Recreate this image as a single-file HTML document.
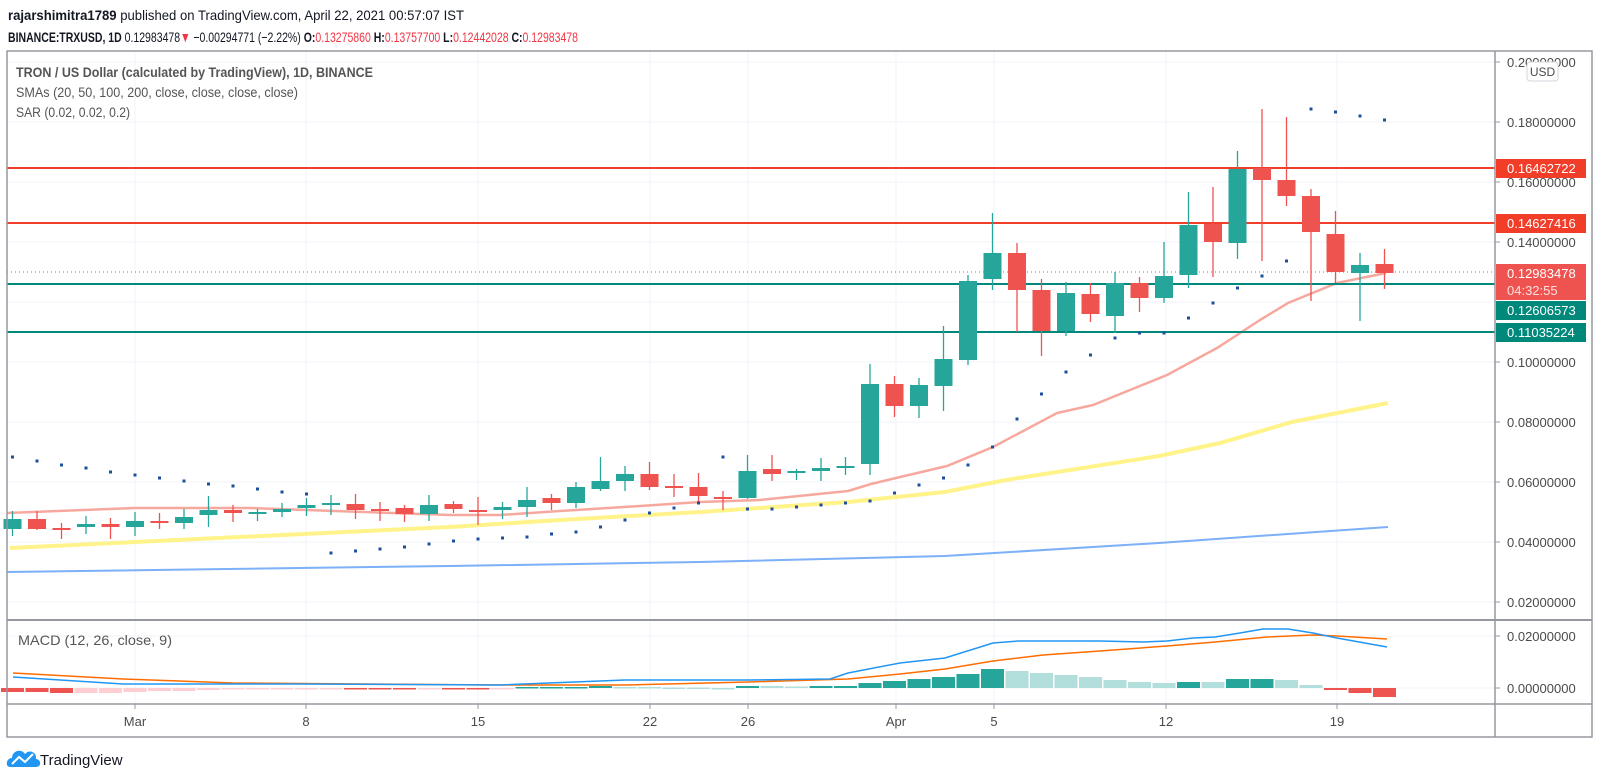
<!DOCTYPE html>
<html><head><meta charset="utf-8"><style>
html,body{margin:0;padding:0;background:#fff;}
svg{display:block;font-family:"Liberation Sans",sans-serif;}
</style></head><body>
<svg id="s" width="1600" height="781" viewBox="0 0 1600 781" xmlns="http://www.w3.org/2000/svg">
<rect width="1600" height="781" fill="#fff"/>
<g id="grid" stroke="#f0f3fa" stroke-width="1"></g>
<g id="lines"></g>
<g id="cand"></g>
<g id="macd"></g>
<!-- frame -->
<rect x="7" y="51" width="1585" height="686" fill="none" stroke="#9598a1" stroke-width="1.5"/>
<line x1="1495" y1="51" x2="1495" y2="737" stroke="#9598a1" stroke-width="1.5"/>
<line x1="7" y1="620" x2="1592" y2="620" stroke="#9598a1" stroke-width="2"/>
<line x1="7" y1="704" x2="1592" y2="704" stroke="#9598a1" stroke-width="1.5"/>
<g id="axis" font-size="13" fill="#4a4a4a"></g>
<!-- header -->
<text x="8" y="20" font-size="14" fill="#131722" textLength="456" lengthAdjust="spacingAndGlyphs"><tspan font-weight="bold">rajarshimitra1789</tspan> published on TradingView.com, April 22, 2021 00:57:07 IST</text>
<text x="8" y="42" font-size="14" fill="#131722" textLength="570" lengthAdjust="spacingAndGlyphs"><tspan font-weight="bold">BINANCE:TRXUSD, 1D</tspan> 0.12983478<tspan fill="#f23645">▼</tspan> −0.00294771 (−2.22%) <tspan font-weight="bold">O:</tspan><tspan fill="#f23645">0.13275860</tspan> <tspan font-weight="bold">H:</tspan><tspan fill="#f23645">0.13757700</tspan> <tspan font-weight="bold">L:</tspan><tspan fill="#f23645">0.12442028</tspan> <tspan font-weight="bold">C:</tspan><tspan fill="#f23645">0.12983478</tspan></text>
<text x="16" y="77" font-size="14" fill="#555" font-weight="bold" textLength="357" lengthAdjust="spacingAndGlyphs">TRON / US Dollar (calculated by TradingView), 1D, BINANCE</text>
<text x="16" y="97" font-size="14" fill="#555" textLength="282" lengthAdjust="spacingAndGlyphs">SMAs (20, 50, 100, 200, close, close, close, close)</text>
<text x="16" y="117" font-size="14" fill="#555" textLength="114" lengthAdjust="spacingAndGlyphs">SAR (0.02, 0.02, 0.2)</text>
<text x="18" y="645" font-size="14" fill="#555" textLength="154" lengthAdjust="spacingAndGlyphs">MACD (12, 26, close, 9)</text>
<!-- logo -->
<g transform="translate(7,745)">
<path d="M3 22 C-2 22 -1 13 5 13 C5 6 14 3 18 9 C22 4 30 7 29 14 C34 14 35 22 29 22 Z" fill="#2196f3"/>
<polyline points="5,19 12,12 18,17 26,9" fill="none" stroke="#fff" stroke-width="2"/>
</g>
<text x="40" y="765" font-size="15" fill="#131722">TradingView</text>
</svg>
<script>
const NS="http://www.w3.org/2000/svg";
function el(p,t,a,txt){const e=document.createElementNS(NS,t);for(const k in a)e.setAttribute(k,a[k]);if(txt!==undefined)e.textContent=txt;document.getElementById(p).appendChild(e);return e;}
const X=d=>135+24.5*d;
// grid
[62,122,182,242,302,362,422,482,542,602,636,688].forEach(y=>el('grid','line',{x1:7,x2:1495,y1:y,y2:y}));
[135,306,478,650,748,896,994,1166,1337].forEach(x=>el('grid','line',{x1:x,x2:x,y1:51,y2:704}));
// SMAs
el('lines','polyline',{points:"7,572 450,566 700,562 945,556 1159,543 1388,527",fill:"none",stroke:"#5b9cf6","stroke-width":2,opacity:0.8});
el('lines','polyline',{points:"10,548 450,527 560,520 700,512 848,502 945,492 1006,480 1159,456 1220,443 1292,422 1388,403",fill:"none",stroke:"#fff176","stroke-width":4,opacity:0.85});
el('lines','polyline',{points:"7,513 135,508 250,508 306,510 450,515 500,515 560,511 640,506 700,502 760,500 848,491 871,484 896,478 947,466 993,447 1057,413 1093,405 1167,375 1217,348 1260,320 1288,303 1337,283 1386,273",fill:"none",stroke:"#f7a399","stroke-width":2.5,opacity:0.95});
// horizontal levels
el('lines','line',{x1:7,x2:1495,y1:168,y2:168,stroke:"#f23d28","stroke-width":2});
el('lines','line',{x1:7,x2:1495,y1:223,y2:223,stroke:"#f23d28","stroke-width":2});
el('lines','line',{x1:7,x2:1495,y1:284,y2:284,stroke:"#00897b","stroke-width":2});
el('lines','line',{x1:7,x2:1495,y1:332,y2:332,stroke:"#00897b","stroke-width":2});
el('lines','line',{x1:7,x2:1495,y1:272,y2:272,stroke:"#ef5350","stroke-width":1,"stroke-dasharray":"1,3"});
// candles [c,bt,bb,wt,wb]
const C=[
['g',519,529,511,536],['r',519,529,511,530],['r',528,530,523,539],['g',524,527,516,534],['r',524,527,518,539],
['g',521,527,512,536],['r',521,523,513,529],['g',517,523,509,529],['g',510,515,496,527],['r',510,513,505,522],
['g',512,513,509,521],['g',509,512,503,517],['g',505,508,498,516],['g',503,505,495,515],['r',504,510,494,519],
['r',509,511,502,521],['r',508,514,505,522],['g',505,514,495,521],['r',504,509,501,513],['r',510,512,497,525],
['g',507,510,502,519],['g',500,507,487,517],['r',498,503,494,510],['g',487,503,482,508],['g',481,489,457,491],
['g',474,481,466,491],['r',474,487,462,490],['r',486,488,474,497],['r',487,496,473,503],['r',497,499,491,510],
['g',471,498,455,499],['r',469,474,455,481],['g',471,473,469,480],['g',468,471,458,481],['g',466,468,457,475],
['g',384,464,364,475],['r',384,406,376,417],['g',385,406,378,418],['g',359,386,326,411],['g',281,360,275,365],
['g',253,279,213,290],['r',253,290,243,332],['r',290,331,279,356],['g',293,331,282,336],['r',294,314,283,322],
['g',283,316,272,333],['r',283,298,277,312],['g',276,298,242,303],['g',225,275,192,288],['r',224,242,187,277],
['g',169,243,151,259],['r',168,180,109,261],['r',180,196,117,206],['r',196,232,189,301],['r',234,272,211,283],
['g',265,273,253,321],['r',264,273,249,289]];
C.forEach((c,i)=>{const d=i-5,x=X(d),col=c[0]=='g'?'#26a69a':'#ef5350';
el('cand','line',{x1:x,x2:x,y1:c[3],y2:c[4],stroke:col,"stroke-width":1.3});
el('cand','rect',{x:x-9,y:c[1],width:18,height:Math.max(2,c[2]-c[1]),fill:col});});
// SAR
const S=[457,461,465,468,472,475,478,481,484,486,489,492,494,553,551,549,547,544,541,539,538,537,534,532,527,520,513,508,503,457,509,509,507,505,503,501,493,485,478,465,447,419,394,372,355,338,333,333,318,303,288,276,261,109,112,116,120];
S.forEach((y,i)=>{const x=X(i-5);el('cand','rect',{x:x-1.5,y:y-1.5,width:3,height:3,fill:"#1e4f9c"});});
// MACD hist
const H=[[692,'R'],[692,'R'],[693,'R'],[693,'P'],[693,'P'],[692,'P'],[691,'P'],[691,'P'],[690,'P'],[689.5,'P'],[689.5,'P'],[689,'P'],[689,'P'],[689,'P'],[689.5,'R'],[689.5,'R'],[689.5,'R'],[689,'P'],[689.5,'R'],[689.5,'R'],[688.5,'P'],
[687,'G'],[687,'G'],[687,'G'],[686,'G'],[687,'L'],[687,'L'],[687.5,'L'],[687.5,'L'],[688,'L'],[686,'G'],[686,'L'],[686.5,'L'],[686,'G'],[686,'G'],
[683,'G'],[681,'G'],[679,'G'],[677,'G'],[674,'G'],[669,'G'],[671,'L'],[673,'L'],[675,'L'],[677,'L'],[680,'L'],[682,'L'],[683,'L'],[682,'G'],[682,'L'],[679,'G'],[679,'G'],[680,'L'],[685,'L'],[690,'R'],[693,'R'],[697,'R']];
const HC={R:'#ef5350',P:'#ffcdd2',G:'#26a69a',L:'#b2dfdb'};
H.forEach((h,i)=>{const x=X(i-5),y=h[0];const t=Math.min(y,688),b=Math.max(y,688);
el('macd','rect',{x:x-11.5,y:t,width:23,height:Math.max(1.5,b-t),fill:HC[h[1]]});});
el('macd','polyline',{points:"13,673 123,679 233,683 500,685 625,685 748,682 848,679 900,674 945,669 993,661 1043,655 1100,651 1167,646 1215,642 1267,637 1313,635 1337,636 1387,639",fill:"none",stroke:"#ff6d00","stroke-width":1.5});
el('macd','polyline',{points:"13,677 123,684 300,684 500,685 625,680 748,680 830,679 848,673 900,663 945,658 993,643 1018,641 1067,641 1100,641 1143,642 1167,641 1193,638 1215,637 1240,633 1263,629 1288,629 1313,633 1337,638 1387,647",fill:"none",stroke:"#2196f3","stroke-width":1.5});
// axis labels
const A=[[0.2,62],[0.18,122],[0.16,182],[0.14,242],[0.10,362],[0.08,422],[0.06,482],[0.04,542],[0.02,602]];
A.forEach(a=>{el('axis','line',{x1:1495,x2:1500,y1:a[1],y2:a[1],stroke:"#9598a1"});el('axis','text',{x:1507,y:a[1]+5,"font-size":13},a[0].toFixed(8));});
[[0.02,636],[0,688]].forEach(a=>{el('axis','line',{x1:1495,x2:1500,y1:a[1],y2:a[1],stroke:"#9598a1"});el('axis','text',{x:1507,y:a[1]+5,"font-size":13},a[0].toFixed(8));});
[['Mar',135],['8',306],['15',478],['22',650],['26',748],['Apr',896],['5',994],['12',1166],['19',1337]].forEach(t=>{
el('axis','line',{x1:t[1],x2:t[1],y1:704,y2:709,stroke:"#9598a1"});el('axis','text',{x:t[1],y:726,"text-anchor":"middle"},t[0]);});
// USD badge
el('axis','rect',{x:1527,y:62,width:31,height:19,rx:3,fill:"#fff",stroke:"#d1d4dc"});
el('axis','text',{x:1542.5,y:76,"text-anchor":"middle","font-size":12},'USD');
// price labels
function lab(y,h,col,t){el('axis','rect',{x:1496,y:y,width:90,height:h,fill:col});el('axis','text',{x:1507,y:y+14,fill:"#fff"},t);}
lab(159,19,'#f23d28','0.16462722');
lab(214,19,'#f23d28','0.14627416');
el('axis','rect',{x:1496,y:264,width:90,height:36,fill:'#ef5350'});
el('axis','text',{x:1507,y:278,fill:"#fff"},'0.12983478');
el('axis','text',{x:1507,y:295,fill:"#fde0df"},'04:32:55');
lab(301,19,'#00897b','0.12606573');
lab(323,19,'#00897b','0.11035224');
</script>
</body></html>
